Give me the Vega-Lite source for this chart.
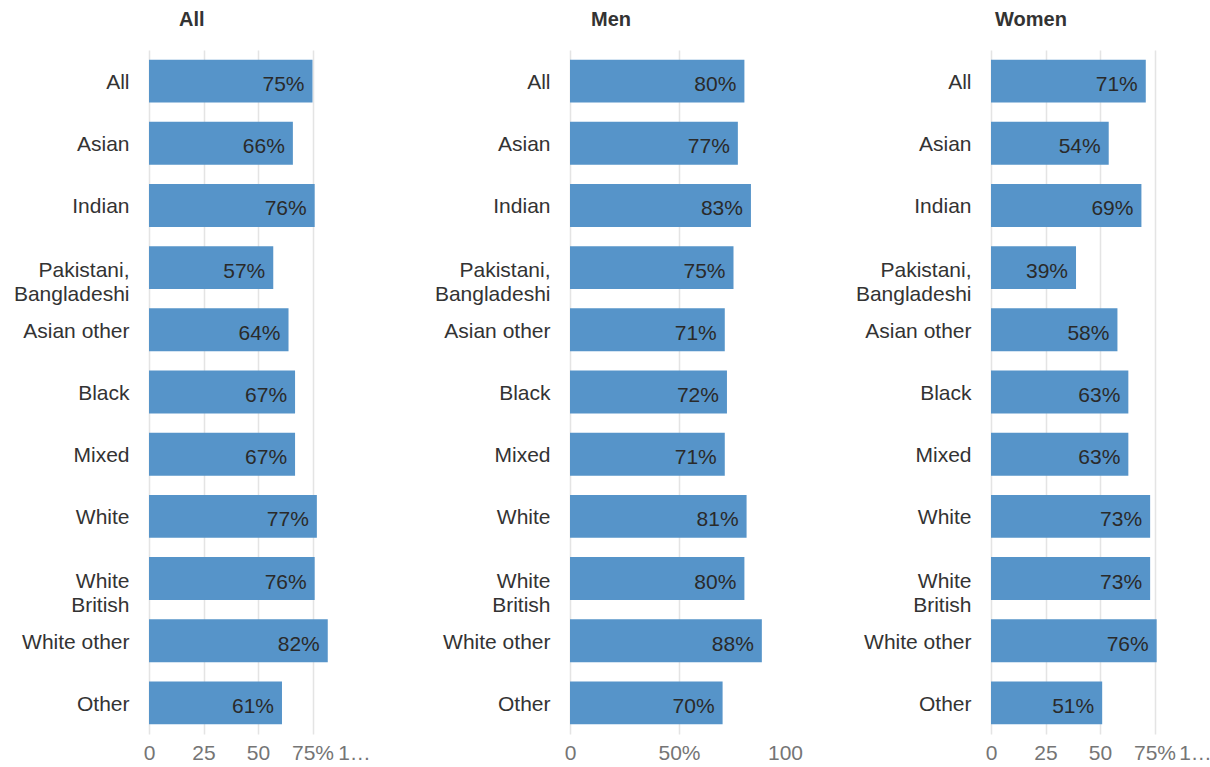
{
  "$schema": "https://vega.github.io/schema/vega-lite/v6.json",
  "padding": {"left": 13, "top": 10, "right": 0, "bottom": 5},
  "background": "white",
  "bounds": "flush",
  "spacing": 203,
  "config": {
    "view": {"stroke": null},
    "font": "Liberation Sans",
    "axisY": {
      "title": null, "domain": false, "ticks": false, "grid": false,
      "labelFontSize": 21, "labelColor": "#333333", "labelPadding": 20,
      "labelLineHeight": 24, "labelLimit": 300,
      "labelExpr": "datum.value == 'Pakistani, Bangladeshi' ? ['Pakistani,', 'Bangladeshi'] : datum.value == 'White British' ? ['White', 'British'] : datum.value",
      "labelOffset": {"condition": {"test": "datum.value == 'Pakistani, Bangladeshi' || datum.value == 'White British'", "value": 3}, "value": 2}
    },
    "axisX": {
      "title": null, "domain": false, "ticks": false, "grid": true,
      "gridColor": "#e4e4e4", "gridWidth": 1.5,
      "gridOpacity": {"condition": {"test": "datum.value >= 1", "value": 0}, "value": 1},
      "labelFlush": false, "labelOverlap": false,
      "labelFontSize": 21, "labelColor": "#757575", "labelPadding": 8
    },
    "title": {"fontSize": 20, "fontWeight": "bold", "color": "#333333", "anchor": "start", "frame": "group", "offset": 20, "baseline": "alphabetic"}
  },
  "datasets": {
    "d": [
      {"group": "All", "category": "All", "value": 0.75},
      {"group": "All", "category": "Asian", "value": 0.66},
      {"group": "All", "category": "Indian", "value": 0.76},
      {"group": "All", "category": "Pakistani, Bangladeshi", "value": 0.57},
      {"group": "All", "category": "Asian other", "value": 0.64},
      {"group": "All", "category": "Black", "value": 0.67},
      {"group": "All", "category": "Mixed", "value": 0.67},
      {"group": "All", "category": "White", "value": 0.77},
      {"group": "All", "category": "White British", "value": 0.76},
      {"group": "All", "category": "White other", "value": 0.82},
      {"group": "All", "category": "Other", "value": 0.61},
      {"group": "Men", "category": "All", "value": 0.80},
      {"group": "Men", "category": "Asian", "value": 0.77},
      {"group": "Men", "category": "Indian", "value": 0.83},
      {"group": "Men", "category": "Pakistani, Bangladeshi", "value": 0.75},
      {"group": "Men", "category": "Asian other", "value": 0.71},
      {"group": "Men", "category": "Black", "value": 0.72},
      {"group": "Men", "category": "Mixed", "value": 0.71},
      {"group": "Men", "category": "White", "value": 0.81},
      {"group": "Men", "category": "White British", "value": 0.80},
      {"group": "Men", "category": "White other", "value": 0.88},
      {"group": "Men", "category": "Other", "value": 0.70},
      {"group": "Women", "category": "All", "value": 0.71},
      {"group": "Women", "category": "Asian", "value": 0.54},
      {"group": "Women", "category": "Indian", "value": 0.69},
      {"group": "Women", "category": "Pakistani, Bangladeshi", "value": 0.39},
      {"group": "Women", "category": "Asian other", "value": 0.58},
      {"group": "Women", "category": "Black", "value": 0.63},
      {"group": "Women", "category": "Mixed", "value": 0.63},
      {"group": "Women", "category": "White", "value": 0.73},
      {"group": "Women", "category": "White British", "value": 0.73},
      {"group": "Women", "category": "White other", "value": 0.76},
      {"group": "Women", "category": "Other", "value": 0.51}
    ]
  },
  "hconcat": [
    {
      "title": {"text": "All", "dx": 30},
      "width": 218, "height": 684,
      "data": {"name": "d"},
      "transform": [{"filter": "datum.group == 'All'"}],
      "encoding": {
        "y": {"field": "category", "type": "nominal", "sort": null, "scale": {"paddingInner": 0.31, "paddingOuter": 0.155}},
        "x": {"field": "value", "type": "quantitative", "scale": {"domain": [0, 1]},
          "axis": {"values": [0, 0.25, 0.5, 0.75, 1],
            "labelExpr": "datum.value == 0 ? '0' : datum.value == 0.25 ? '25' : datum.value == 0.5 ? '50' : datum.value == 0.75 ? '75%' : '1…'",
            "labelOffset": {"condition": {"test": "datum.value >= 1", "value": -13}, "value": 0}}}
      },
      "layer": [
        {"mark": {"type": "bar", "color": "#5694c9"}},
        {"mark": {"type": "text", "align": "right", "dx": -8, "dy": 4, "fontSize": 21, "color": "#2a2a2a"},
         "encoding": {"text": {"field": "value", "type": "quantitative", "format": ".0%"}}}
      ]
    },
    {
      "title": {"text": "Men", "dx": 21},
      "width": 218, "height": 684,
      "data": {"name": "d"},
      "transform": [{"filter": "datum.group == 'Men'"}],
      "encoding": {
        "y": {"field": "category", "type": "nominal", "sort": null, "scale": {"paddingInner": 0.31, "paddingOuter": 0.155}},
        "x": {"field": "value", "type": "quantitative", "scale": {"domain": [0, 1]},
          "axis": {"values": [0, 0.5, 1],
            "labelExpr": "datum.value == 0 ? '0' : datum.value == 0.5 ? '50%' : '100'",
            "labelOffset": {"condition": {"test": "datum.value >= 1", "value": -3}, "value": 0}}}
      },
      "layer": [
        {"mark": {"type": "bar", "color": "#5694c9"}},
        {"mark": {"type": "text", "align": "right", "dx": -8, "dy": 4, "fontSize": 21, "color": "#2a2a2a"},
         "encoding": {"text": {"field": "value", "type": "quantitative", "format": ".0%"}}}
      ]
    },
    {
      "title": {"text": "Women", "dx": 4},
      "width": 218, "height": 684,
      "data": {"name": "d"},
      "transform": [{"filter": "datum.group == 'Women'"}],
      "encoding": {
        "y": {"field": "category", "type": "nominal", "sort": null, "scale": {"paddingInner": 0.31, "paddingOuter": 0.155}},
        "x": {"field": "value", "type": "quantitative", "scale": {"domain": [0, 1]},
          "axis": {"values": [0, 0.25, 0.5, 0.75, 1],
            "labelExpr": "datum.value == 0 ? '0' : datum.value == 0.25 ? '25' : datum.value == 0.5 ? '50' : datum.value == 0.75 ? '75%' : '1…'",
            "labelOffset": {"condition": {"test": "datum.value >= 1", "value": -14}, "value": 0}}}
      },
      "layer": [
        {"mark": {"type": "bar", "color": "#5694c9"}},
        {"mark": {"type": "text", "align": "right", "dx": -8, "dy": 4, "fontSize": 21, "color": "#2a2a2a"},
         "encoding": {"text": {"field": "value", "type": "quantitative", "format": ".0%"}}}
      ]
    }
  ]
}
